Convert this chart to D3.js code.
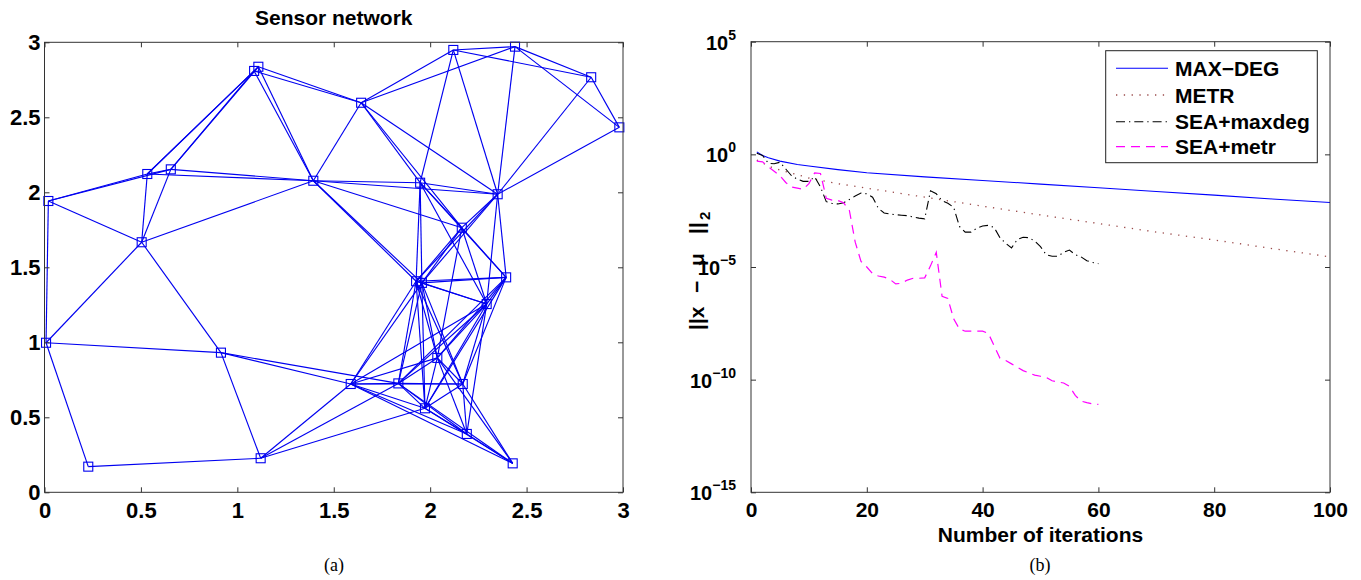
<!DOCTYPE html>
<html><head><meta charset="utf-8">
<script src="https://cdn.jsdelivr.net/npm/d3@7"></script>
<style>body{margin:0;background:#fff}svg{display:block}</style>
</head><body>
<svg id="c" width="1361" height="580"></svg>
<script>
// ---------- Left panel data: sensor positions ----------
const nodeX = [0.020,0.008,0.227,0.533,0.655,0.504,1.109,1.087,1.394,0.915,1.121,1.642,2.120,2.440,2.835,2.981,1.948,2.350,2.164,1.927,1.957,2.394,2.293,2.037,1.588,1.835,2.169,1.973,2.190,2.428];
const nodeY = [1.942,0.997,0.171,2.122,2.153,1.667,2.837,2.809,2.077,0.931,0.227,2.597,2.949,2.971,2.767,2.433,2.064,1.987,1.764,1.407,1.396,1.433,1.255,0.896,0.722,0.726,0.722,0.560,0.389,0.193];
const edges = [
 [0,1],[0,3],[0,4],[0,5],[1,2],[1,5],[1,9],[2,10],
 [3,4],[3,5],[3,6],[3,7],[3,8],[4,5],[4,6],[4,7],[4,8],[5,8],[5,9],
 [6,7],[6,8],[6,11],[7,8],[7,11],
 [8,11],[8,16],[8,17],[8,18],[8,19],[8,20],
 [9,10],[9,24],[9,25],[10,24],[10,25],[10,27],
 [11,12],[11,13],[11,16],[11,17],[11,18],
 [12,13],[12,14],[12,16],[12,17],[13,14],[13,15],[13,17],[14,15],[14,17],[15,17],
 [16,17],[16,18],[16,19],[16,20],[16,21],[16,22],
 [17,18],[17,19],[17,20],[17,21],[17,22],
 [18,19],[18,20],[18,21],[18,22],[18,23],
 [19,20],[19,21],[19,22],[19,23],[19,24],[19,25],[19,26],[19,27],
 [20,21],[20,22],[20,23],[20,24],[20,25],[20,26],[20,27],
 [21,22],[21,23],[21,25],[21,26],[21,27],
 [22,23],[22,24],[22,25],[22,26],[22,27],[22,28],
 [23,24],[23,25],[23,26],[23,27],[23,28],[23,29],
 [24,25],[24,26],[24,27],[24,28],[24,29],
 [25,26],[25,27],[25,28],[25,29],[26,27],[26,28],[26,29],[27,28],[27,29],[28,29]
];
const leftTicks = [0,0.5,1,1.5,2,2.5,3];
const leftTickLabels = ["0","0.5","1","1.5","2","2.5","3"];

// ---------- Right panel data (log10 of error) ----------
const maxDegIter = [1,2,3,5,8,10,15,20,30,40,50,60,70,80,90,100];
const maxDegLog10 = [0.11,-0.05,-0.15,-0.30,-0.45,-0.52,-0.68,-0.82,-1.00,-1.16,-1.32,-1.48,-1.65,-1.81,-1.98,-2.14];
const metrIter = [1,2,3,5,8,10,15,20,30,40,50,60,70,80,90,100];
const metrLog10 = [-0.25,-0.38,-0.52,-0.70,-0.90,-1.05,-1.30,-1.50,-1.90,-2.30,-2.69,-3.07,-3.45,-3.80,-4.18,-4.55];
const seaMaxdegLog10 = [0.05,-0.05,-0.40,-0.42,-0.35,-0.65,-0.95,-1.10,-1.20,-1.20,
 -1.00,-1.45,-2.10,-2.18,-2.20,-2.15,-2.00,-1.85,-1.72,-1.75,
 -1.90,-2.40,-2.60,-2.65,-2.68,-2.70,-2.72,-2.78,-2.83,-2.86,
 -1.62,-1.75,-2.05,-2.17,-2.35,-3.20,-3.45,-3.45,-3.28,-3.18,
 -3.15,-3.25,-3.70,-3.95,-4.15,-3.78,-3.68,-3.70,-3.85,-4.10,
 -4.46,-4.52,-4.52,-4.35,-4.25,-4.45,-4.55,-4.72,-4.80,-4.85];
const seaMetrLog10 = [-0.30,-0.33,-0.55,-0.75,-0.95,-1.25,-1.45,-1.50,-1.55,-1.30,
 -0.82,-0.85,-1.95,-2.03,-2.05,-2.15,-2.50,-3.90,-4.75,-5.00,
 -5.30,-5.40,-5.45,-5.55,-5.75,-5.72,-5.58,-5.50,-5.50,-5.48,
 -4.95,-4.35,-6.30,-6.40,-7.30,-7.75,-7.85,-7.85,-7.85,-7.85,
 -7.95,-8.50,-9.05,-9.15,-9.30,-9.45,-9.60,-9.70,-9.80,-9.85,
 -9.90,-10.05,-10.10,-10.15,-10.30,-10.70,-10.95,-11.02,-11.08,-11.10];
const rightXTicks = [0,20,40,60,80,100];
const rightYExp = [5,0,-5,-10,-15];
const seriesNames = ["MAX\u2212DEG","METR","SEA+maxdeg","SEA+metr"];
const yLabelParts = ["||x","\u2212","\u03bc","||"];

const svg = d3.select("#c");
const FONT = "'Liberation Sans', Arial, Helvetica, sans-serif";
const axisColor = "#333";

// ===== Left panel =====
const L = {x0:44.5, x1:623, y0:492.3, y1:42.3};
const lx = d3.scaleLinear().domain([0,3]).range([L.x0,L.x1]);
const ly = d3.scaleLinear().domain([0,3]).range([L.y0,L.y1]);
const gl = svg.append("g");
gl.append("g").selectAll("line").data(edges).join("line")
  .attr("x1",d=>lx(nodeX[d[0]])).attr("y1",d=>ly(nodeY[d[0]]))
  .attr("x2",d=>lx(nodeX[d[1]])).attr("y2",d=>ly(nodeY[d[1]]))
  .attr("stroke","#0000f0").attr("stroke-width",1.15);
gl.append("g").selectAll("rect").data(nodeX.map((x,i)=>[x,nodeY[i]])).join("rect")
  .attr("x",d=>lx(d[0])-4.5).attr("y",d=>ly(d[1])-4.5).attr("width",9).attr("height",9)
  .attr("fill","none").attr("stroke","#0000f0").attr("stroke-width",1.1);
gl.append("rect").attr("x",L.x0).attr("y",L.y1).attr("width",L.x1-L.x0).attr("height",L.y0-L.y1)
  .attr("fill","none").attr("stroke",axisColor).attr("stroke-width",1);
const lxAxis = d3.axisBottom(lx).tickValues(leftTicks).tickFormat((d,i)=>leftTickLabels[i]).tickSizeInner(-5).tickSizeOuter(0).tickPadding(10);
const lyAxis = d3.axisLeft(ly).tickValues(leftTicks).tickFormat((d,i)=>leftTickLabels[i]).tickSizeInner(-5).tickSizeOuter(0).tickPadding(4);
gl.append("g").attr("class","lt").attr("transform",`translate(0,${L.y0})`).call(lxAxis);
gl.append("g").attr("class","lt").attr("transform",`translate(${L.x0},0)`).call(lyAxis);
gl.append("g").attr("transform",`translate(0,${L.y1})`).call(d3.axisTop(lx).tickValues(leftTicks).tickFormat("").tickSizeInner(-5).tickSizeOuter(0));
gl.append("g").attr("transform",`translate(${L.x1},0)`).call(d3.axisRight(ly).tickValues(leftTicks).tickFormat("").tickSizeInner(-5).tickSizeOuter(0));
gl.append("text").attr("x",(L.x0+L.x1)/2).attr("y",25).attr("text-anchor","middle")
  .attr("font-family",FONT).attr("font-weight","bold").attr("font-size",21).text("Sensor network");

// ===== Right panel =====
const R = {x0:751, x1:1330, y0:492.3, y1:41.7};
const rx = d3.scaleLinear().domain([0,100]).range([R.x0,R.x1]);
const ry = d3.scaleLog().domain([1e-15,1e5]).range([R.y0,R.y1]);
const gr = svg.append("g");
const line = d3.line().x(d=>rx(d[0])).y(d=>ry(Math.pow(10,d[1])));
const seaIter = seaMaxdegLog10.map((v,i)=>i+1);
const series = [
  {name:seriesNames[0], pts:maxDegIter.map((x,i)=>[x,maxDegLog10[i]]), color:"#0000ff", dash:null, w:1.1},
  {name:seriesNames[1], pts:metrIter.map((x,i)=>[x,metrLog10[i]]), color:"#9a4a4a", dash:"1.3,6.5", w:1.3},
  {name:seriesNames[2], pts:seaIter.map((x,i)=>[x,seaMaxdegLog10[i]]), color:"#000", dash:"9,4,1.3,4", w:1.1},
  {name:seriesNames[3], pts:seaIter.map((x,i)=>[x,seaMetrLog10[i]]), color:"#ff00ff", dash:"9,6", w:1.2}
];
series.forEach(s=>{
  gr.append("path").datum(s.pts).attr("d",line).attr("fill","none")
    .attr("stroke",s.color).attr("stroke-width",s.w).attr("stroke-dasharray",s.dash);
});
gr.append("rect").attr("x",R.x0).attr("y",R.y1).attr("width",R.x1-R.x0).attr("height",R.y0-R.y1)
  .attr("fill","none").attr("stroke",axisColor).attr("stroke-width",1);
const rTickVals = rightYExp.map(e=>Math.pow(10,e));
gr.append("g").attr("class","rt").attr("transform",`translate(0,${R.y0})`)
  .call(d3.axisBottom(rx).tickValues(rightXTicks).tickFormat(d3.format("d")).tickSizeInner(-5).tickSizeOuter(0).tickPadding(10));
gr.append("g").attr("transform",`translate(0,${R.y1})`)
  .call(d3.axisTop(rx).tickValues(rightXTicks).tickFormat("").tickSizeInner(-5).tickSizeOuter(0));
gr.append("g").attr("transform",`translate(${R.x0},0)`)
  .call(d3.axisLeft(ry).tickValues(rTickVals).tickFormat("").tickSizeInner(-5).tickSizeOuter(0));
gr.append("g").attr("transform",`translate(${R.x1},0)`)
  .call(d3.axisRight(ry).tickValues(rTickVals).tickFormat("").tickSizeInner(-5).tickSizeOuter(0));
rightYExp.forEach(e=>{
  const t = gr.append("text").attr("x",R.x0-15).attr("y",ry(Math.pow(10,e))+8)
    .attr("text-anchor","end").attr("font-family",FONT).attr("font-weight","bold").attr("font-size",20);
  t.append("tspan").text("10");
  t.append("tspan").attr("dy",-10).attr("font-size",14).text(e<0?"\u2212"+(-e):String(e));
});
gr.append("text").attr("x",(R.x0+R.x1)/2).attr("y",542).attr("text-anchor","middle")
  .attr("font-family",FONT).attr("font-weight","bold").attr("font-size",21).text("Number of iterations");
// y label: "||x − μ ||" with subscript 2, rotated
const yl = gr.append("g").attr("transform","translate(704,330) rotate(-90)");
const ylOffsets = [0,37,64,96];
yLabelParts.forEach((p,i)=>{
  yl.append("text").attr("x",ylOffsets[i]).attr("y",0)
    .attr("font-family",FONT).attr("font-weight","bold").attr("font-size",21).text(p);
});
yl.append("text").attr("x",110).attr("y",6)
  .attr("font-family",FONT).attr("font-weight","bold").attr("font-size",15).text("2");

// legend
const lg = gr.append("g");
lg.append("rect").attr("x",1105.7).attr("y",50.7).attr("width",211.6).attr("height",112)
  .attr("fill","#fff").attr("stroke","#222").attr("stroke-width",1);
const legY = [68.3,95,121.7,146.7];
series.forEach((s,i)=>{
  lg.append("line").attr("x1",1116).attr("x2",1168).attr("y1",legY[i]).attr("y2",legY[i])
    .attr("stroke",s.color).attr("stroke-width",s.w).attr("stroke-dasharray",s.dash);
  lg.append("text").attr("x",1175).attr("y",legY[i]+7.5).attr("font-family",FONT)
    .attr("font-weight","bold").attr("font-size",21).text(s.name);
});

svg.selectAll(".tick text").attr("font-family",FONT).attr("font-weight","bold").attr("fill","#000");
svg.selectAll(".lt .tick text").attr("font-size",22);
svg.selectAll(".rt .tick text").attr("font-size",21);
svg.selectAll(".tick line").attr("stroke",axisColor);
svg.selectAll(".domain").attr("stroke","none");

svg.append("text").attr("x",334).attr("y",571).attr("text-anchor","middle")
  .attr("font-family","'Liberation Serif', 'Times New Roman', serif").attr("font-size",18).text("(a)");
svg.append("text").attr("x",1040).attr("y",571).attr("text-anchor","middle")
  .attr("font-family","'Liberation Serif', 'Times New Roman', serif").attr("font-size",18).text("(b)");
</script>
</body></html>
